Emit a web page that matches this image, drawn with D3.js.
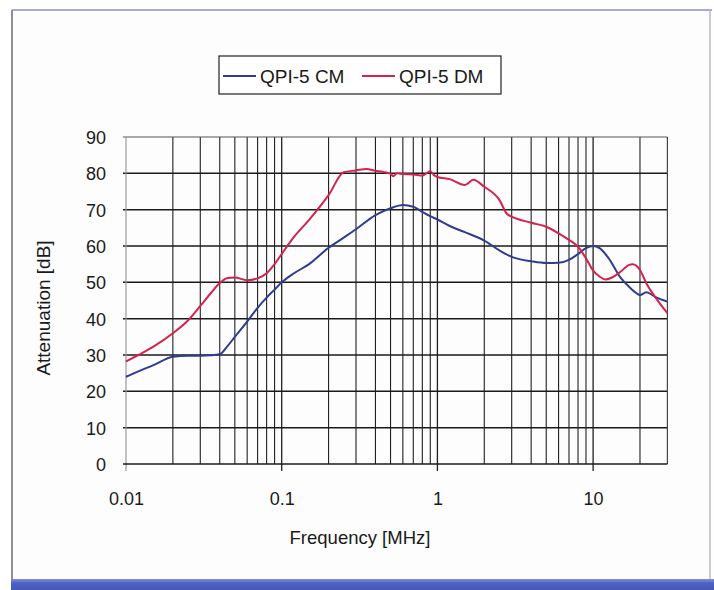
<!DOCTYPE html>
<html>
<head>
<meta charset="utf-8">
<script src="https://cdn.jsdelivr.net/npm/d3@7"></script>
<style>
  html, body { margin: 0; padding: 0; background: #ffffff; }
  svg { display: block; }
  text { font-family: "Liberation Sans", Arial, sans-serif; fill: #1a1a1a; }
</style>
</head>
<body>
<svg id="chart" width="714" height="590"></svg>
<script>
// ---- data ----
const seriesNames = ["QPI-5 CM", "QPI-5 DM"];
const cmFreq = [0.01,0.012,0.015,0.02,0.025,0.03,0.035,0.04,0.045,0.05,0.06,0.07,0.08,0.09,0.1,0.12,0.15,0.2,0.25,0.3,0.4,0.5,0.6,0.7,0.8,0.9,1.0,1.2,1.5,2.0,2.5,3.0,4.0,5.0,6.0,7.0,8.0,9.0,10,11,12.5,15,17,19,20,22,25,30];
const cmValues = [24.0,25.5,27.2,29.5,29.8,29.8,29.9,30.2,32.5,35.0,39.2,43.0,45.8,48.0,50.0,52.5,55.0,59.5,62.3,64.6,68.5,70.4,71.3,70.8,69.4,68.2,67.3,65.5,63.8,61.5,58.8,57.0,55.8,55.3,55.4,56.2,57.8,59.4,60.0,59.4,56.8,51.3,48.8,47.0,46.5,47.3,46.0,44.7];
const dmFreq = [0.01,0.012,0.015,0.02,0.025,0.03,0.035,0.04,0.045,0.05,0.06,0.07,0.08,0.09,0.1,0.12,0.15,0.2,0.25,0.3,0.35,0.4,0.45,0.5,0.52,0.55,0.6,0.7,0.8,0.85,0.9,0.95,1.0,1.2,1.5,1.7,2.0,2.5,2.8,3.0,4.0,5.0,6.0,7.0,8.0,9.0,10,11,12,13,15,17,18,20,22,25,30];
const dmValues = [28.2,30.0,32.3,36.0,39.5,43.5,47.0,49.8,51.2,51.3,50.6,51.1,52.5,55.0,57.8,62.5,67.2,74.0,80.3,80.8,81.2,80.7,80.4,79.9,79.2,80.0,79.8,79.7,79.4,80.0,80.6,79.5,79.0,78.4,76.8,78.2,76.3,72.7,68.8,68.1,66.4,65.3,63.5,61.7,59.8,56.6,53.2,51.6,50.8,51.2,52.9,54.8,55.0,53.4,49.7,46.0,41.5];
const xMajorTicks = [0.01, 0.1, 1, 10];
const xTickLabels = ["0.01", "0.1", "1", "10"];
const yTicks = [0,10,20,30,40,50,60,70,80,90];
const xTitle = "Frequency [MHz]";
const yTitle = "Attenuation [dB]";

// ---- layout ----
const svg = d3.select("#chart");
const x = d3.scaleLog().domain([0.01, 30]).range([126, 667.4]);
const y = d3.scaleLinear().domain([0, 90]).range([464, 137]);
const colors = ["#2e3d8f", "#d4224e"];

// frame
svg.append("rect").attr("x",0).attr("y",0).attr("width",714).attr("height",590).attr("fill","#ffffff");
svg.append("rect").attr("x",12).attr("y",10).attr("width",698).attr("height",570).attr("fill","#fdfdfd");
svg.append("line").attr("x1",12).attr("x2",712).attr("y1",10).attr("y2",10).attr("stroke","#a9a9dc").attr("stroke-width",2);
svg.append("line").attr("x1",12).attr("x2",12).attr("y1",10).attr("y2",580).attr("stroke","#8e8e9e").attr("stroke-width",2);
svg.append("line").attr("x1",710).attr("x2",710).attr("y1",10).attr("y2",580).attr("stroke","#b8b8c8").attr("stroke-width",1.5);
const grad = svg.append("defs").append("linearGradient").attr("id","band").attr("x1",0).attr("x2",0).attr("y1",0).attr("y2",1);
grad.append("stop").attr("offset","0%").attr("stop-color","#7f8fd8");
grad.append("stop").attr("offset","40%").attr("stop-color","#4d60c4");
grad.append("stop").attr("offset","100%").attr("stop-color","#4458bc");
svg.append("rect").attr("x",11).attr("y",579).attr("width",703).attr("height",11).attr("fill","url(#band)");

// grid: minor vertical lines
const minorTicks = [];
[0.01, 0.1, 1, 10].forEach(d => { for (let k = 2; k <= 9; k++) { const v = d * k; if (v < 30) minorTicks.push(v); } });
const g = svg.append("g");
g.selectAll("line.vminor").data(minorTicks).join("line")
  .attr("x1", d => x(d)).attr("x2", d => x(d)).attr("y1", y(90)).attr("y2", y(0))
  .attr("stroke", "#202020").attr("stroke-width", 1.1);
// major vertical lines (extend below axis as ticks)
g.selectAll("line.vmajor").data(xMajorTicks.slice(1)).join("line")
  .attr("x1", d => x(d)).attr("x2", d => x(d)).attr("y1", y(90)).attr("y2", y(0) + 7)
  .attr("stroke", "#202020").attr("stroke-width", 1.3);
// horizontal grid lines (with small ticks to the left)
g.selectAll("line.h").data(yTicks.slice(1, -1)).join("line")
  .attr("x1", x(0.01) - 3).attr("x2", x(30)).attr("y1", d => y(d)).attr("y2", d => y(d))
  .attr("stroke", "#1a1a1a").attr("stroke-width", 1.5);
// top border (90), right border
g.append("line").attr("x1", x(0.01) - 3).attr("x2", x(30)).attr("y1", y(90)).attr("y2", y(90)).attr("stroke", "#555").attr("stroke-width", 1.1);
g.append("line").attr("x1", x(30)).attr("x2", x(30)).attr("y1", y(90)).attr("y2", y(0)).attr("stroke", "#444").attr("stroke-width", 1.2);
// y axis (light)
g.append("line").attr("x1", x(0.01)).attr("x2", x(0.01)).attr("y1", y(90)).attr("y2", y(0) + 7).attr("stroke", "#9a9a9a").attr("stroke-width", 1.2);
// x axis line
g.append("line").attr("x1", x(0.01) - 3).attr("x2", x(30)).attr("y1", y(0)).attr("y2", y(0)).attr("stroke", "#1a1a1a").attr("stroke-width", 1.3);

// axis labels via d3 axes (domain/ticks hidden, only text)
const yAxis = d3.axisLeft(y).tickValues(yTicks).tickSize(0).tickPadding(0).tickFormat(d3.format("d"));
const ya = svg.append("g").attr("transform", "translate(106,0)").call(yAxis);
ya.select(".domain").remove();
ya.selectAll("text").attr("font-size", 18).attr("font-family", "Liberation Sans, Arial, sans-serif").attr("fill", "#1a1a1a").attr("dy", "0.36em").attr("x", 0);

const xAxis = d3.axisBottom(x).tickValues(xMajorTicks).tickSize(0).tickPadding(0).tickFormat((d, i) => xTickLabels[i]);
const xa = svg.append("g").attr("transform", "translate(0,492)").call(xAxis);
xa.select(".domain").remove();
xa.selectAll("text").attr("font-size", 18).attr("font-family", "Liberation Sans, Arial, sans-serif").attr("fill", "#1a1a1a").attr("dy", "0.72em").attr("y", 0);

// titles
svg.append("text").attr("x", 360).attr("y", 544).attr("text-anchor", "middle").attr("font-size", 18.5).text(xTitle);
svg.append("text").attr("transform", "translate(50,308) rotate(-90)").attr("text-anchor", "middle").attr("font-size", 19).text(yTitle);

// lines
const line = d3.line().x(d => x(d[0])).y(d => y(d[1])).curve(d3.curveMonotoneX);
const series = [d3.zip(cmFreq, cmValues), d3.zip(dmFreq, dmValues)];
svg.selectAll("path.series").data(series).join("path")
  .attr("class", "series")
  .attr("d", line).attr("fill", "none")
  .attr("stroke", (d, i) => colors[i]).attr("stroke-width", 2).attr("stroke-linejoin", "round");

// legend
const lg = svg.append("g");
lg.append("rect").attr("x", 219).attr("y", 56).attr("width", 282).attr("height", 38)
  .attr("fill", "#ffffff").attr("stroke", "#222").attr("stroke-width", 1.2);
const legendX = [223, 362];
seriesNames.forEach((name, i) => {
  lg.append("line").attr("x1", legendX[i]).attr("x2", legendX[i] + 33).attr("y1", 76).attr("y2", 76)
    .attr("stroke", colors[i]).attr("stroke-width", 2);
  lg.append("text").attr("x", legendX[i] + 37).attr("y", 83).attr("font-size", 19).text(name);
});
</script>
</body>
</html>
